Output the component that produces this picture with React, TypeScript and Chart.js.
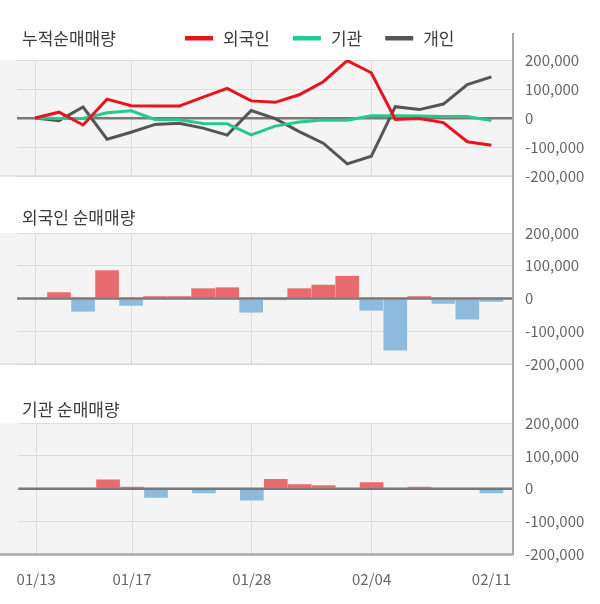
import React, { useEffect, useRef } from "react";
import { Chart, registerables } from "chart.js";

Chart.register(...registerables);

// ---- data ----
const dates = [
  "01/13", "01/14", "01/15", "01/16", "01/17", "01/20", "01/21", "01/22", "01/23", "01/28",
  "01/29", "01/30", "01/31", "02/03", "02/04", "02/05", "02/06", "02/07", "02/10", "02/11",
];
const tickIndex = [0, 4, 9, 14, 19];
const seriesNames = ["외국인", "기관", "개인"];
const panelTitles = ["누적순매매량", "외국인 순매매량", "기관 순매매량"];

const foreignCum = [0, 20000, -24000, 65000, 42000, 41000, 41000, 72000, 102000, 59000, 54000, 80000, 125000, 198000, 156000, -5000, -2000, -16000, -82000, -94000];
const institutionCum = [0, -2000, -2000, 18000, 25000, -5000, -6000, -19000, -20000, -58000, -28000, -14000, -7000, -8000, 8000, 8000, 7000, 5000, 5000, -9000];
const individualCum = [0, -9000, 38000, -73000, -49000, -22000, -18000, -35000, -59000, 26000, -2000, -47000, -87000, -158000, -132000, 39000, 29000, 48000, 115000, 142000];

const foreignDaily = [0, 18000, -39000, 85000, -21000, 6000, 6000, 30000, 33000, -42000, -3000, 30000, 41000, 68000, -36000, -158000, 6000, -15000, -63000, -9000];
const institutionDaily = [0, 0, 0, 27000, 5000, -26000, 0, -13000, 0, -35000, 29000, 13000, 10000, 0, 19000, 0, 5000, 0, 0, -13000];

const yMin = -200000;
const yMax = 200000;
const yStep = 100000;

// ---- styles ----
const FONT = '"Noto Sans CJK KR", "Noto Sans", sans-serif';
const LINE_COLORS = ["#e8141c", "#26c98c", "#555555"];
const POS_BAR = "#e96b6d";
const NEG_BAR = "#8dbbe0";
const GRID = "#dcdcdc";
const PLOT_BG = "#f4f4f4";

const decor = {
  id: "decor",
  beforeDraw(chart: any, _args: any, opts: any) {
    const { ctx, chartArea: a } = chart;
    ctx.save();
    ctx.fillStyle = PLOT_BG;
    ctx.fillRect(0, a.top, a.right, a.bottom - a.top);
    ctx.restore();
  },
  afterDatasetsDraw(chart: any, _args: any, opts: any) {
    const { ctx, chartArea: a } = chart;
    ctx.save();
    if (opts.zeroOver) {
      const y0 = chart.scales.y.getPixelForValue(0);
      ctx.strokeStyle = "#787878";
      ctx.lineWidth = 2.5;
      ctx.beginPath();
      ctx.moveTo(a.left, y0);
      ctx.lineTo(a.right, y0);
      ctx.stroke();
    }
    ctx.strokeStyle = opts.bottomColor;
    ctx.lineWidth = opts.bottomWidth;
    ctx.beginPath();
    ctx.moveTo(0, a.bottom);
    ctx.lineTo(a.right, a.bottom);
    ctx.stroke();
    ctx.strokeStyle = "#a8a8a8";
    ctx.lineWidth = 2;
    ctx.beginPath();
    ctx.moveTo(a.right, opts.axisTop);
    ctx.lineTo(a.right, opts.axisBottom != null ? opts.axisBottom : chart.height);
    ctx.stroke();
    ctx.font = "17px " + FONT;
    ctx.fillStyle = "#3c3c3c";
    ctx.textBaseline = "middle";
    ctx.textAlign = "left";
    ctx.fillText(opts.title, 22, opts.titleY);
    if (opts.legend) {
      let x = 185;
      chart.data.datasets.forEach((ds: any) => {
        ctx.fillStyle = ds.borderColor;
        ctx.fillRect(x, opts.titleY - 3, 28, 4.5);
        x += 38;
        ctx.fillStyle = "#3c3c3c";
        ctx.fillText(ds.label, x, opts.titleY);
        x += ctx.measureText(ds.label).width + 23;
      });
    }
    ctx.restore();
  },
};

function pts(values: number[]) {
  return values.map((v, i) => ({ x: i, y: v }));
}

function makeOptions(p: {
  padTop: number;
  padBottom: number;
  xHeight: number;
  showX: boolean;
  zeroInGrid: boolean;
  decor: any;
}) {
  return {
    responsive: false,
    animation: false,
    maintainAspectRatio: false,
    layout: { padding: { left: 17, right: 0, top: p.padTop, bottom: p.padBottom } },
    plugins: {
      legend: { display: false },
      tooltip: { enabled: false },
      decor: p.decor,
    },
    scales: {
      x: {
        type: "linear",
        offset: false,
        min: -0.75,
        max: 19.9,
        afterBuildTicks: (scale: any) => {
          scale.ticks = tickIndex.map((v) => ({ value: v }));
        },
        afterFit: (scale: any) => {
          scale.height = p.xHeight;
        },
        ticks: {
          display: p.showX,
          autoSkip: false,
          maxRotation: 0,
          padding: 16,
          color: "#666666",
          font: { family: FONT, size: 15 },
          callback: (v: any) => dates[v] ?? "",
        },
        grid: {
          offset: false,
          drawTicks: false,
          color: (c: any) => (c.tick && c.tick.value === 19 ? "rgba(0,0,0,0)" : GRID),
          lineWidth: 1,
        },
        border: { display: false },
      },
      y: {
        position: "right",
        min: yMin,
        max: yMax,
        afterFit: (scale: any) => {
          scale.width = 87;
        },
        ticks: {
          stepSize: yStep,
          padding: 12,
          color: "#666666",
          font: { family: FONT, size: 15 },
          callback: (v: any) => Number(v).toLocaleString("en-US"),
        },
        grid: {
          drawTicks: false,
          color: (c: any) =>
            c.tick && c.tick.value === 0 ? (p.zeroInGrid ? "#787878" : "rgba(0,0,0,0)") : GRID,
          lineWidth: (c: any) => (c.tick && c.tick.value === 0 ? 2.5 : 1),
        },
        border: { display: false },
      },
    },
  } as any;
}

export default function App() {
  const c1 = useRef<HTMLCanvasElement>(null);
  const c2 = useRef<HTMLCanvasElement>(null);
  const c3 = useRef<HTMLCanvasElement>(null);

  useEffect(() => {
    const charts: Chart[] = [];

    charts.push(
      new Chart(c1.current as HTMLCanvasElement, {
        type: "line",
        data: {
          datasets: [foreignCum, institutionCum, individualCum].map((arr, k) => ({
            label: seriesNames[k],
            data: pts(arr),
            borderColor: LINE_COLORS[k],
            backgroundColor: LINE_COLORS[k],
            borderWidth: 3,
            pointRadius: 0,
            tension: 0,
            fill: false,
          })),
        },
        options: makeOptions({
          padTop: 60,
          padBottom: 24,
          xHeight: 0,
          showX: false,
          zeroInGrid: true,
          decor: {
            title: panelTitles[0],
            titleY: 39,
            legend: true,
            axisTop: 33,
            bottomColor: "#d2d2d2",
            bottomWidth: 1,
            zeroOver: false,
          },
        }),
        plugins: [decor],
      } as any)
    );

    const barDataset = (arr: number[], label: string) => ({
      label,
      data: pts(arr),
      backgroundColor: arr.map((v) => (v >= 0 ? POS_BAR : NEG_BAR)),
      borderWidth: 0,
      barThickness: 23,
    });

    charts.push(
      new Chart(c2.current as HTMLCanvasElement, {
        type: "bar",
        data: { datasets: [barDataset(foreignDaily, panelTitles[1])] },
        options: makeOptions({
          padTop: 33,
          padBottom: 20,
          xHeight: 0,
          showX: false,
          zeroInGrid: false,
          decor: {
            title: panelTitles[1],
            titleY: 18,
            legend: false,
            axisTop: 0,
            bottomColor: "#d2d2d2",
            bottomWidth: 1,
            zeroOver: true,
          },
        }),
        plugins: [decor],
      } as any)
    );

    charts.push(
      new Chart(c3.current as HTMLCanvasElement, {
        type: "bar",
        data: { datasets: [barDataset(institutionDaily, panelTitles[2])] },
        options: makeOptions({
          padTop: 38,
          padBottom: 0,
          xHeight: 49.5,
          showX: true,
          zeroInGrid: false,
          decor: {
            title: panelTitles[2],
            titleY: 25,
            legend: false,
            axisTop: 0,
            axisBottom: 170,
            bottomColor: "#aaaaaa",
            bottomWidth: 2.5,
            zeroOver: true,
          },
        }),
        plugins: [decor],
      } as any)
    );

    return () => charts.forEach((c) => c.destroy());
  }, []);

  const canvasStyle = (top: number, h: number): React.CSSProperties => ({
    position: "absolute",
    left: 0,
    top,
    width: 600,
    height: h,
    display: "block",
  });

  return (
    <div style={{ position: "absolute", left: 0, top: 0, width: 600, height: 604, background: "#ffffff" }}>
      <canvas ref={c1} width={600} height={200} style={canvasStyle(0, 200)} />
      <canvas ref={c2} width={600} height={185} style={canvasStyle(200, 185)} />
      <canvas ref={c3} width={600} height={219} style={canvasStyle(385, 219)} />
    </div>
  );
}
